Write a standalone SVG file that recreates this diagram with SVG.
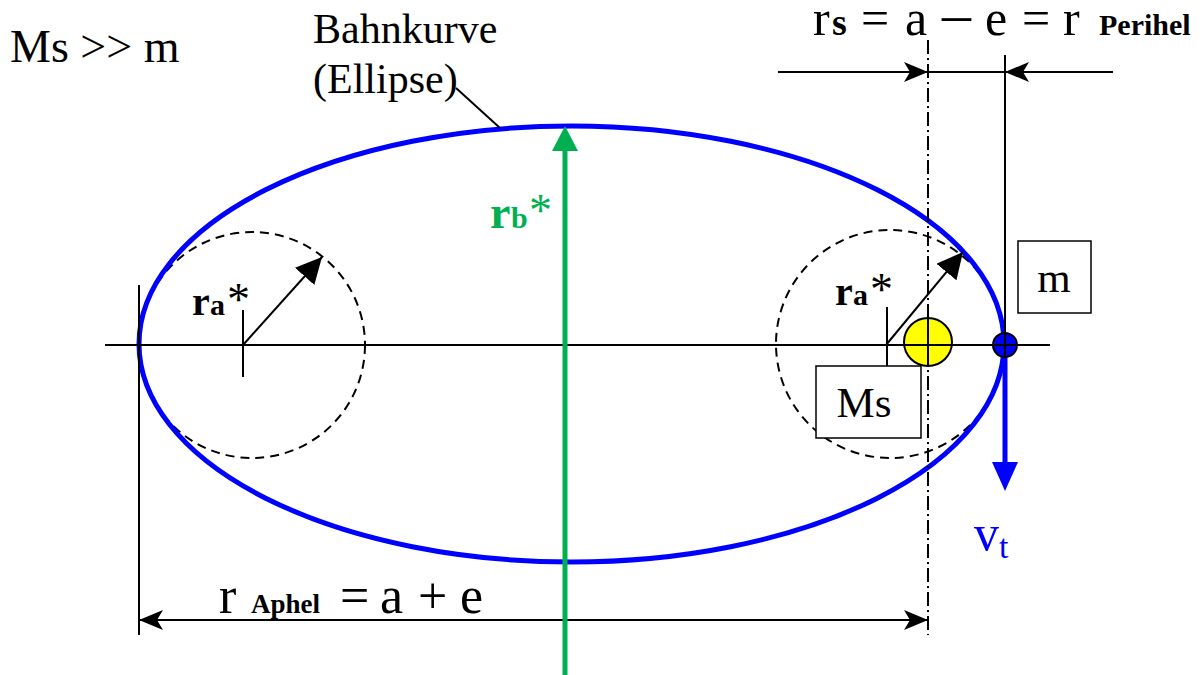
<svg xmlns="http://www.w3.org/2000/svg" width="1204" height="675" viewBox="0 0 1204 675">
<style>
text{font-family:"Liberation Serif","Times New Roman",Times,serif}
.t{fill:#000}
.b{font-weight:bold}
.ln{stroke:#000;stroke-width:2;fill:none}
.dash{stroke:#000;stroke-width:2;fill:none;stroke-dasharray:9,6}
.box{fill:#fff;stroke:#000;stroke-width:1.5}
</style>
<defs>
<marker id="ah" viewBox="0 0 24 20" refX="24" refY="10" markerWidth="24" markerHeight="20" markerUnits="userSpaceOnUse" orient="auto-start-reverse">
<path d="M0,0 L24,10 L0,20 L6,10 Z" fill="#000"/>
</marker>
<marker id="tri" viewBox="0 0 26 26" refX="26" refY="13" markerWidth="26" markerHeight="26" markerUnits="userSpaceOnUse" orient="auto">
<path d="M0,0 L26,13 L0,26 Z" fill="#000"/>
</marker>
</defs>
<rect width="1204" height="675" fill="#fff"/>

<g id="dashed-circles">
<circle cx="252" cy="345" r="113" class="dash"/>
<circle cx="890" cy="344" r="114" class="dash"/>
</g>

<g id="orbit">
<ellipse cx="571.5" cy="344" rx="432.5" ry="218" fill="none" stroke="#0000ff" stroke-width="5"/>
</g>

<g id="connectors">
<line x1="105" y1="345" x2="1050" y2="345" class="ln"/>
<line x1="139" y1="285" x2="139" y2="635" class="ln"/>
<line x1="928" y1="40" x2="928" y2="635" class="ln" stroke-dasharray="14,4,2,4"/>
<line x1="1005" y1="55" x2="1005" y2="345" class="ln"/>
<line x1="243" y1="310" x2="243" y2="377" class="ln"/>
<line x1="887" y1="307" x2="887" y2="376" class="ln"/>
<line x1="243" y1="345" x2="322" y2="257" class="ln" marker-end="url(#tri)"/>
<line x1="886" y1="345" x2="963" y2="252" class="ln" marker-end="url(#tri)"/>
<line x1="456" y1="88" x2="500" y2="128" class="ln" stroke-width="1.5"/>
<line x1="778" y1="72" x2="928" y2="72" class="ln" marker-end="url(#ah)"/>
<line x1="1113" y1="72" x2="1005" y2="72" class="ln" marker-end="url(#ah)"/>
<line x1="928" y1="72" x2="1005" y2="72" class="ln"/>
<line x1="139" y1="620" x2="928" y2="620" class="ln" stroke-width="2.5" marker-start="url(#ah)" marker-end="url(#ah)"/>
</g>

<g id="rb-axis">
<line x1="565" y1="675" x2="565" y2="146" stroke="#00b050" stroke-width="5"/>
<path d="M565,126 L578,151 L552,151 Z" fill="#00b050"/>
<text y="228" font-size="46" fill="#00b050" class="b"><tspan x="490">r</tspan><tspan x="511" font-size="30">b</tspan><tspan x="529" font-weight="normal" font-size="46" dy="-2">*</tspan></text>
</g>

<g id="sun">
<circle cx="928" cy="342" r="24" fill="#ffff00" stroke="#000" stroke-width="2"/>
<line x1="904" y1="345" x2="952" y2="345" class="ln"/>
<line x1="928" y1="318" x2="928" y2="366" class="ln"/>
</g>

<g id="planet">
<line x1="1005" y1="345" x2="1005" y2="465" stroke="#0000ff" stroke-width="5"/>
<path d="M992,462 L1018,462 L1005,491 Z" fill="#0000ff"/>
<circle cx="1005" cy="345" r="12" fill="#0000ff" stroke="#000" stroke-width="2"/>
<line x1="993" y1="345" x2="1017" y2="345" class="ln"/>
<line x1="1005" y1="333" x2="1005" y2="357" class="ln"/>
<text y="550" font-size="50" fill="#0000ff"><tspan x="974">v</tspan><tspan x="999" font-size="34" dy="8">t</tspan></text>
</g>

<g id="box-m">
<rect x="1018" y="241" width="73" height="72" class="box"/>
<text x="1054" y="292" class="t" font-size="43" text-anchor="middle">m</text>
</g>

<g id="box-Ms">
<rect x="816" y="366" width="105" height="72" class="box"/>
<text x="864" y="417" class="t" font-size="43" text-anchor="middle">Ms</text>
</g>

<g id="ra-left">
<text y="315" class="t b" font-size="40"><tspan x="192">r</tspan><tspan x="210" font-size="30">a</tspan><tspan x="227" font-weight="normal" font-size="46">*</tspan></text>
</g>
<g id="ra-right">
<text y="305" class="t b" font-size="40"><tspan x="835">r</tspan><tspan x="853" font-size="30">a</tspan><tspan x="870" font-weight="normal" font-size="46">*</tspan></text>
</g>

<g id="labels">
<text x="10" y="62" class="t" font-size="46">Ms &gt;&gt; m</text>
<text x="313" y="43" class="t" font-size="42">Bahnkurve</text>
<text x="313" y="93" class="t" font-size="42">(Ellipse)</text>
<text y="35" class="t" font-size="50"><tspan x="813">r</tspan><tspan x="832" class="b" font-size="38">s</tspan><tspan x="861">=</tspan><tspan x="905">a</tspan><tspan x="942" font-size="58" dy="-2">–</tspan><tspan x="985" dy="2">e</tspan><tspan x="1022">=</tspan><tspan x="1063">r</tspan><tspan x="1099" class="b" font-size="30">Perihel</tspan></text>
<text y="613" class="t" font-size="52"><tspan x="219">r</tspan><tspan x="251" class="b" font-size="27">Aphel</tspan><tspan x="340">=</tspan><tspan x="380">a</tspan><tspan x="418">+</tspan><tspan x="460">e</tspan></text>
</g>
</svg>
